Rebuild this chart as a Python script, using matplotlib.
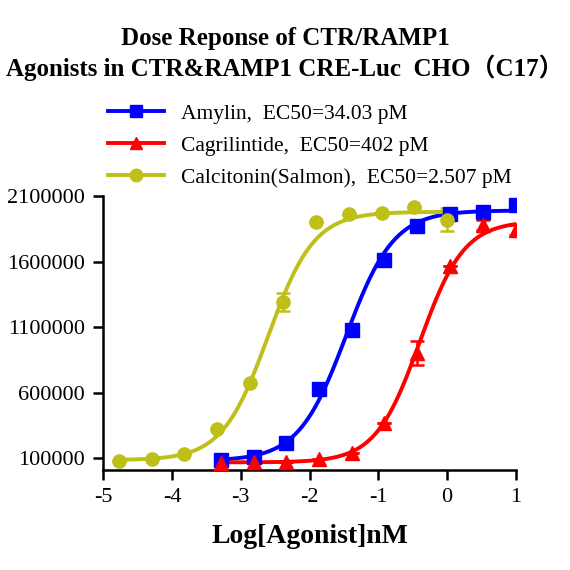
import numpy as np
import matplotlib
matplotlib.use("Agg")
import matplotlib.pyplot as plt

plt.rcParams['font.family'] = ['Liberation Serif', 'DejaVu Serif']
plt.rcParams['axes.unicode_minus'] = False

x_amy = [-3.29, -2.81, -2.34, -1.86, -1.38, -0.91, -0.43, 0.04, 0.52, 1.0]
y_amy = [85000, 110000, 214000, 626000, 1080000, 1610000, 1870000, 1960000, 1980000, 2030000]
e_amy = [0, 0, 0, 20000, 20000, 30000, 30000, 20000, 30000, 20000]
x_cag = [-3.29, -2.81, -2.34, -1.86, -1.38, -0.91, -0.43, 0.04, 0.52, 1.0]
y_cag = [62000, 72000, 72000, 92000, 138000, 367000, 901000, 1570000, 1880000, 1840000]
e_cag = [0, 0, 0, 0, 0, 0, 90000, 0, 40000, 40000]
x_cal = [-4.77, -4.29, -3.82, -3.34, -2.86, -2.39, -1.91, -1.43, -0.95, -0.48, 0.0]
y_cal = [80000, 92000, 130000, 322000, 676000, 1290000, 1900000, 1960000, 1970000, 2020000, 1920000]
e_cal = [0, 0, 0, 0, 0, 70000, 0, 0, 0, 0, 90000]

# 4PL fit parameters: bottom, top, logEC50 (nM), hill
fit_amy = (80000, 1990000, -1.468, 1.25)
fit_cag = (68000, 1910000, -0.396, 1.35)
fit_cal = (85000, 1980000, -2.601, 1.3)

labels = ["Amylin,  EC50=34.03 pM", "Cagrilintide,  EC50=402 pM",
          "Calcitonin(Salmon),  EC50=2.507 pM"]
colors = ["#0000ff", "#ff0000", "#bfbf1a"]
markers = ["s", "^", "o"]

def fourpl(x, b, t, c, h):
    return b + (t - b) / (1 + 10 ** ((c - x) * h))

fig = plt.figure(figsize=(5.7, 5.7), dpi=100)
ax = fig.add_axes([0.181, 0.175, 0.724, 0.481])

for xs, ys, es, fit, lab, col, mk in [
    (x_amy, y_amy, e_amy, fit_amy, labels[0], colors[0], markers[0]),
    (x_cag, y_cag, e_cag, fit_cag, labels[1], colors[1], markers[1]),
    (x_cal, y_cal, e_cal, fit_cal, labels[2], colors[2], markers[2]),
]:
    xx = np.linspace(min(xs), max(xs), 300)
    ax.plot(xx, fourpl(xx, *fit), color=col, lw=2.8, zorder=2)
    ax.errorbar(xs, ys, yerr=es, fmt=mk, color=col, ms=9.5, capsize=5,
                elinewidth=1.8, capthick=1.8, zorder=3)
    ax.plot([], [], color=col, marker=mk, lw=2.8, ms=9, label=lab)

ax.set_xlim(-5, 1)
ax.set_ylim(8000, 2100000)
ax.set_xticks([-5, -4, -3, -2, -1, 0, 1])
ax.set_yticks([100000, 600000, 1100000, 1600000, 2100000])
ax.set_yticklabels(["100000", "600000", "1100000", "1600000", "2100000"])
for s in ["top", "right"]:
    ax.spines[s].set_visible(False)
for s in ["left", "bottom"]:
    ax.spines[s].set_linewidth(1.8)
ax.tick_params(width=1.8, length=7, labelsize=16, pad=6)
ax.set_xlabel("Log[Agonist]nM", fontsize=20, fontweight="bold", labelpad=12)

fig.text(0.5, 0.933, "Dose Reponse of CTR/RAMP1", ha="center", va="center",
         fontsize=18, fontweight="bold")
fig.text(0.5, 0.881, "Agonists in CTR&RAMP1 CRE-Luc  CHO（C17）", ha="center",
         va="center", fontsize=18, fontweight="bold",
         family=['Liberation Serif', 'Noto Sans CJK SC'])
fig.legend(loc="upper left", bbox_to_anchor=(0.155, 0.852), frameon=False,
           fontsize=15.5, handlelength=2.6, labelspacing=0.55)

fig.savefig("out.png", dpi=100)
